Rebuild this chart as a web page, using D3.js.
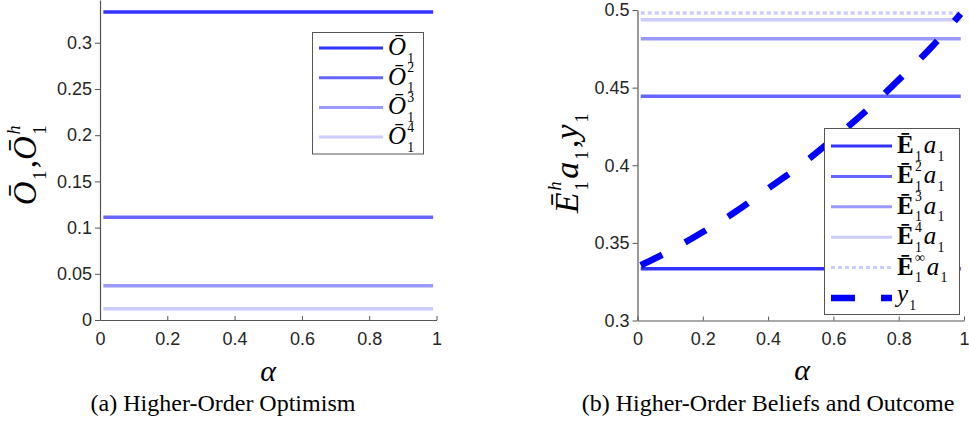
<!DOCTYPE html>
<html>
<head>
<meta charset="utf-8">
<script src="https://cdn.jsdelivr.net/npm/d3@7"></script>
<style>
  body { margin: 0; background: #fff; }
  svg { display: block; }
</style>
</head>
<body>
<svg id="fig" width="969" height="431"></svg>
<script>
  // alpha grid used for every series
  var alphaGrid = [0.01, 0.1, 0.2, 0.3, 0.4, 0.5, 0.6, 0.7, 0.8, 0.9, 0.99];
  // (a) higher-order optimism, flat in alpha
  var optLevels = [0.3333, 0.1111, 0.0370, 0.0123];
  var optSup = ['', '2', '3', '4'];
  // (b) higher-order beliefs, flat in alpha
  var beliefLevels = [0.3333, 0.4444, 0.4815, 0.4938, 0.4980];
  var beliefSup = ['', '2', '3', '4', '\u221E'];
  // (b) outcome y1
  var y1Values = [0.3356, 0.3450, 0.3570, 0.3700, 0.3850, 0.4000, 0.4170, 0.4350, 0.4550, 0.4760, 0.4975];
  var xTicks = [0, 0.2, 0.4, 0.6, 0.8, 1];
  var yTicksA = [0, 0.05, 0.1, 0.15, 0.2, 0.25, 0.3];
  var yTicksB = [0.3, 0.35, 0.4, 0.45, 0.5];

  var shades = ['#3333ff', '#6666ff', '#9999ff', '#ccccff', '#ccccff'];
  var SERIF = '"Liberation Serif", "Times New Roman", "DejaVu Serif", serif';
  var SANS = '"Liberation Sans", Arial, Helvetica, sans-serif';

  var svg = d3.select('#fig');

  function txt(g, x, y, size) {
    return g.append('text').attr('x', x).attr('y', y)
      .style('font-family', SERIF).style('font-size', size + 'px').style('fill', '#000');
  }

  // draws base/sub/sup pieces one after another, returns width
  function mathText(g, x, y, size, toks) {
    var cx = x;
    toks.forEach(function (t) {
      if (t.s !== undefined || t.p !== undefined) {
        // sub and sup stacked inside one text element
        cx += size * 0.05;
        var el = txt(g, cx, y, size * 0.55);
        var w = 0;
        if (t.p) {
          var sp = el.append('tspan').attr('x', cx).attr('y', y - size * 0.5)
            .style('font-style', t.pi ? 'italic' : 'normal').text(t.p);
          w = Math.max(w, sp.node().getComputedTextLength());
        }
        if (t.s) {
          var sb = el.append('tspan').attr('x', cx).attr('y', y + size * 0.3).text(t.s);
          w = Math.max(w, sb.node().getComputedTextLength());
        }
        cx += w + size * 0.08;
      } else {
        var b = txt(g, cx, y, size)
          .style('font-style', t.i ? 'italic' : 'normal')
          .style('font-weight', t.b ? 'bold' : 'normal')
          .text(t.t);
        cx += b.node().getComputedTextLength();
      }
    });
    return cx - x;
  }

  function centeredMath(x, y, size, toks, rotate) {
    var g = svg.append('g');
    var inner = g.append('g');
    var w = mathText(inner, 0, 0, size, toks);
    inner.attr('transform', 'translate(' + (-w / 2) + ',0)');
    g.attr('transform', 'translate(' + x + ',' + y + ')' + (rotate ? ' rotate(-90)' : ''));
  }

  function axes(x, y, yTicks, bottom) {
    var gx = svg.append('g').attr('transform', 'translate(0,' + bottom + ')')
      .call(d3.axisBottom(x).tickValues(xTicks).tickFormat(d3.format('~g')).tickSizeInner(-4).tickSizeOuter(0).tickPadding(12));
    var gy = svg.append('g').attr('transform', 'translate(' + x.range()[0] + ',0)')
      .call(d3.axisLeft(y).tickValues(yTicks).tickFormat(d3.format('~g')).tickSizeInner(5).tickSizeOuter(0).tickPadding(3));
    [gx, gy].forEach(function (g) {
      g.attr('font-family', null).attr('font-size', null);
      g.select('.domain').attr('stroke', '#555').attr('stroke-width', 1.2);
      g.selectAll('.tick line').attr('stroke', '#555');
      g.selectAll('.tick text').style('font-family', SANS).style('font-size', '18px').style('fill', '#262626');
    });
  }

  function flatLine(x, y, v) {
    return d3.line().x(function (a) { return x(a); }).y(function () { return y(v); })(alphaGrid);
  }

  // ---------- (a) ----------
  var xA = d3.scaleLinear().domain([0, 1]).range([100, 436.5]);
  var yA = d3.scaleLinear().domain([0, 0.3463]).range([320, 0]);
  axes(xA, yA, yTicksA, 320);

  optLevels.forEach(function (v, i) {
    svg.append('path').attr('d', flatLine(xA, yA, v))
      .attr('fill', 'none').attr('stroke', shades[i]).attr('stroke-width', 3.5);
  });

  var legA = svg.append('g');
  legA.append('rect').attr('x', 312.5).attr('y', 32.5).attr('width', 111).attr('height', 121.5)
    .attr('fill', '#fff').attr('stroke', '#555');
  optLevels.forEach(function (v, i) {
    var ly = 48 + i * 29.7;
    legA.append('line').attr('x1', 319).attr('x2', 383).attr('y1', ly).attr('y2', ly)
      .attr('stroke', shades[i]).attr('stroke-width', 3);
    mathText(legA.append('g'), 388, ly + 7, 25, [{ t: '\u014C', i: true }, { s: '1', p: optSup[i] }]);
  });

  centeredMath(36, 164, 33, [{ t: '\u014C', i: true }, { s: '1' }, { t: ', ' },
    { t: '\u014C', i: true }, { s: '1', p: 'h', pi: true }], true);
  centeredMath(268, 381, 30, [{ t: '\u03B1', i: true }]);
  centeredMath(223, 411, 24, [{ t: '(a) Higher-Order Optimism' }]);

  // ---------- (b) ----------
  var xB = d3.scaleLinear().domain([0, 1]).range([637.5, 964]);
  var yB = d3.scaleLinear().domain([0.3, 0.5]).range([320.5, 10]);
  axes(xB, yB, yTicksB, 320.5);

  beliefLevels.forEach(function (v, i) {
    svg.append('path').attr('d', flatLine(xB, yB, v))
      .attr('fill', 'none').attr('stroke', shades[i]).attr('stroke-width', 3.5)
      .attr('stroke-dasharray', i === 4 ? '4,3' : null);
  });

  svg.append('path')
    .attr('d', d3.line().curve(d3.curveMonotoneX)
      .x(function (d, i) { return xB(alphaGrid[i]); })
      .y(function (d) { return yB(d); })(y1Values))
    .attr('fill', 'none').attr('stroke', '#0000ff').attr('stroke-width', 6.5)
    .attr('stroke-dasharray', '24,26');

  var legB = svg.append('g');
  legB.append('rect').attr('x', 824.5).attr('y', 128.5).attr('width', 135).attr('height', 186)
    .attr('fill', '#fff').attr('stroke', '#555');
  var legItems = beliefLevels.map(function (v, i) {
    return { color: shades[i], dash: i === 4 ? '4,3' : null, width: 3, sup: beliefSup[i] };
  });
  legItems.push({ color: '#0000ff', dash: '24,26', width: 6.5, y1: true });
  legItems.forEach(function (d, i) {
    var ly = 146 + i * 30.4;
    legB.append('line').attr('x1', 831).attr('x2', 892).attr('y1', ly).attr('y2', ly)
      .attr('stroke', d.color).attr('stroke-width', d.width).attr('stroke-dasharray', d.dash);
    var g = legB.append('g');
    if (d.y1) {
      mathText(g, 897, ly + 4, 25, [{ t: 'y', i: true }, { s: '1' }]);
    } else {
      mathText(g, 897, ly + 7, 25, [{ t: '\u0112', b: true }, { s: '1', p: d.sup }, { t: 'a', i: true }, { s: '1' }]);
    }
  });

  centeredMath(578, 162, 34, [{ t: '\u0112', i: true }, { s: '1', p: 'h', pi: true }, { t: 'a', i: true }, { s: '1' },
    { t: ', ' }, { t: 'y', i: true }, { s: '1' }], true);
  centeredMath(802, 380, 30, [{ t: '\u03B1', i: true }]);
  centeredMath(768, 411, 24, [{ t: '(b) Higher-Order Beliefs and Outcome' }]);
</script>
</body>
</html>
